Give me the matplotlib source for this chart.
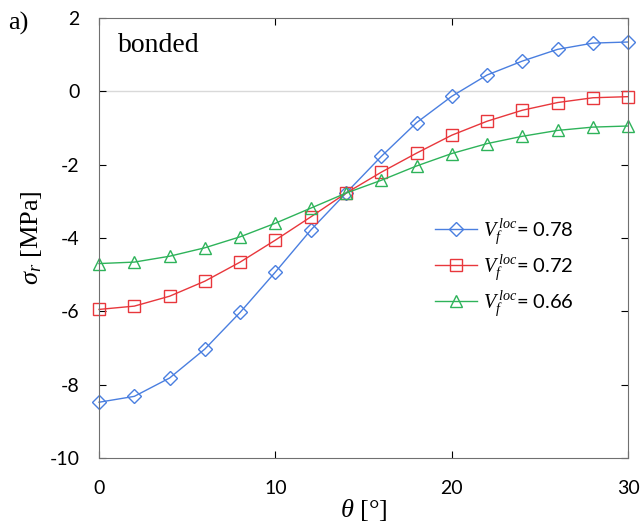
import matplotlib
matplotlib.use('Agg')
import matplotlib.pyplot as plt

theta = [0, 2, 4, 6, 8, 10, 12, 14, 16, 18, 20, 22, 24, 26, 28, 30]
sig_078 = [-8.48, -8.32, -7.82, -7.03, -6.03, -4.93, -3.79, -2.78, -1.78, -0.86,
           -0.14, 0.44, 0.82, 1.14, 1.31, 1.34]
sig_072 = [-5.95, -5.86, -5.59, -5.18, -4.66, -4.06, -3.43, -2.78, -2.21, -1.69,
           -1.20, -0.82, -0.52, -0.31, -0.18, -0.15]
sig_066 = [-4.70, -4.66, -4.50, -4.27, -3.97, -3.60, -3.19, -2.78, -2.43, -2.04,
           -1.70, -1.43, -1.23, -1.07, -0.98, -0.95]
labels = ['0.78', '0.72', '0.66']

plt.rcParams['mathtext.fontset'] = 'custom'
plt.rcParams['mathtext.it'] = 'Liberation Serif:italic'
plt.rcParams['mathtext.rm'] = 'Liberation Serif'
plt.rcParams['font.family'] = 'Lato'
plt.rcParams['axes.unicode_minus'] = False

fig = plt.figure(figsize=(6.41, 5.31), dpi=100)
ax = fig.add_axes([0.1545, 0.1375, 0.8255, 0.829])

ax.axhline(0, color='#d9d9d9', lw=1, zorder=0)

# open markers, thin lines like the excel original
series = [(sig_078, '#4a7fe0', 'D', 7.5), (sig_072, '#e8373c', 's', 8), (sig_066, '#2eb35a', '^', 8.5)]
for (vals, c, m, ms), lab in zip(series, labels):
    ax.plot(theta, vals, color=c, lw=1, marker=m, ms=ms, mfc='none', mec=c, mew=1,
            label=r'$V_f^{\,loc}$' + '= ' + lab, clip_on=False)

ax.set_xlim(0, 30)
ax.set_ylim(-10, 2)
ax.set_xticks([0, 10, 20, 30])
ax.set_yticks(range(-10, 3, 2))
ax.tick_params(direction='in', length=5, labelsize=14, top=True, right=True)
ax.tick_params(axis='x', pad=16)
ax.tick_params(axis='y', pad=14)
for s in ax.spines.values():
    s.set_color('#707070')

ax.set_xlabel(r'$\theta$ [°]', family='Liberation Serif', fontsize=19, labelpad=0)
ax.set_ylabel(r'$\sigma_r$ [MPa]', family='Liberation Serif', fontsize=19, labelpad=4)

ax.text(0.035, 0.965, 'bonded', transform=ax.transAxes, family='Liberation Serif',
        fontsize=20, va='top')
fig.text(0.012, 0.945, 'a)', family='Liberation Serif', fontsize=19)

ax.legend(loc='upper left', bbox_to_anchor=(0.6, 0.59), frameon=False, fontsize=14.5,
          handlelength=2.1, labelspacing=0.32, handletextpad=0.3)

fig.savefig('out.png', dpi=100)
